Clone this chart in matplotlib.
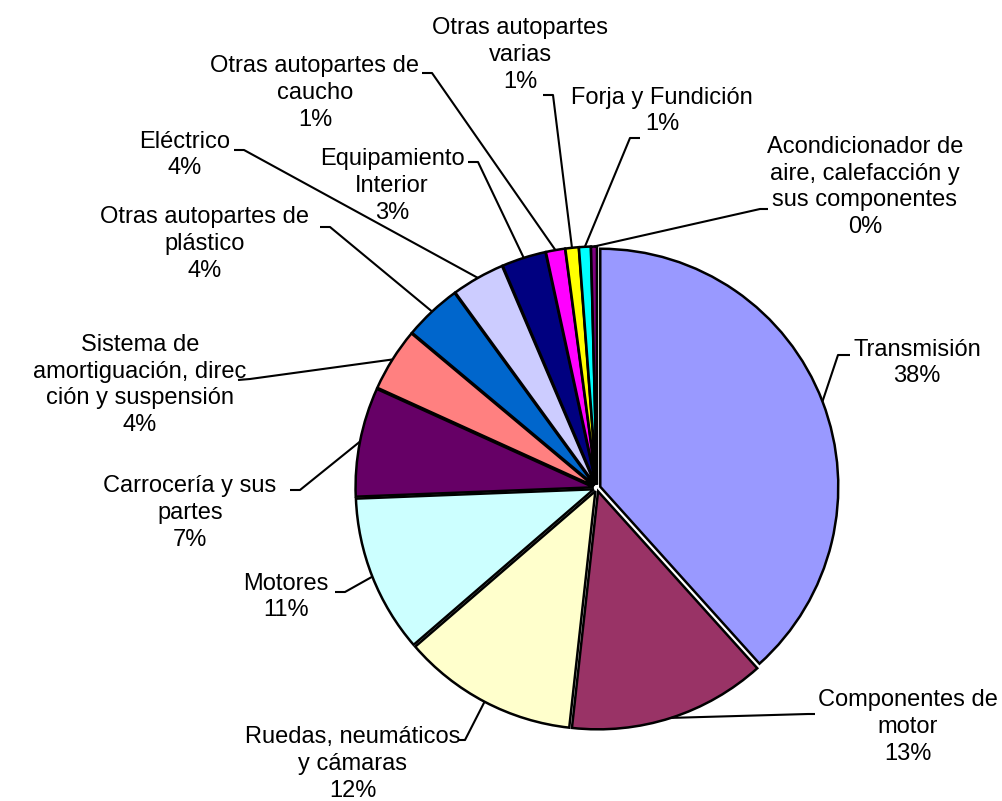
import matplotlib.pyplot as plt
import numpy as np

# share of each autoparts category (clockwise from 12 o'clock)
categories = [
    "Transmisión",
    "Componentes de\nmotor",
    "Ruedas, neumáticos\ny cámaras",
    "Motores",
    "Carrocería y sus\npartes",
    "Sistema de\namortiguación, direc\nción y suspensión",
    "Otras autopartes de\nplástico",
    "Eléctrico",
    "Equipamiento\nInterior",
    "Otras autopartes de\ncaucho",
    "Otras autopartes\nvarias",
    "Forja y Fundición",
    "Acondicionador de\naire, calefacción y\nsus componentes",
]
shares = [38.3, 13.4, 11.9, 10.7, 7.4, 4.3, 3.9, 3.6, 3.0, 1.3, 0.9, 0.8, 0.4]
pct_labels = ["38%", "13%", "12%", "11%", "7%", "4%", "4%", "4%", "3%", "1%", "1%", "1%", "0%"]
colors = ["#9999FF", "#993366", "#FFFFCC", "#CCFFFF", "#660066", "#FF8080",
          "#0066CC", "#CCCCFF", "#000080", "#FF00FF", "#FFFF00", "#00FFFF", "#800080"]

W, H = 1002, 801


def px(x, y):
    # image pixel coords -> axes data coords
    return x, H - y


# label layout in pixels: text centre, elbow of leader, end of leader
layout = [
    ((917, 363), (838, 355), (850, 355)),
    ((908, 727), (808, 714), (815, 714)),
    ((353, 764), (465, 740), (458, 740)),
    ((286, 597), (345, 592), (335, 592)),
    ((190, 513), (300, 490), (290, 490)),
    ((140, 385), (250, 379), (238, 380)),
    ((205, 244), (330, 227), (320, 227)),
    ((185, 155), (244, 150), (234, 150)),
    ((392, 186), (478, 162), (468, 162)),
    ((315, 93), (432, 73), (422, 73)),
    ((520, 55), (553, 95), (543, 95)),
    ((662, 111), (630, 138), (640, 138)),
    ((865, 187), (760, 209), (768, 209)),
]

plt.rcParams['font.family'] = ['Liberation Sans', 'DejaVu Sans']

fig = plt.figure(figsize=(W / 100, H / 100), dpi=100)
ax = fig.add_axes([0, 0, 1, 1])

radius = 238
center = px(597, 488)
wedges, _ = ax.pie(shares, colors=colors, startangle=90, counterclock=False,
                   radius=radius, center=center, explode=[3.5] * len(shares),
                   wedgeprops=dict(edgecolor="black", linewidth=1.8))

for i, w in enumerate(wedges):
    ang = np.deg2rad((w.theta1 + w.theta2) / 2)
    cx, cy = w.center
    rim = (cx + radius * np.cos(ang), cy + radius * np.sin(ang))
    (tx, ty), elbow, end = layout[i]
    ex, ey = px(*elbow)
    nx, ny = px(*end)
    ax.plot([rim[0], ex, nx], [rim[1], ey, ny], color="black", lw=1.5,
            solid_capstyle="butt", zorder=5)
    ax.text(*px(tx, ty), categories[i] + "\n" + pct_labels[i], ha="center", va="center",
            multialignment="center", fontsize=17, linespacing=1.28)

ax.set_xlim(0, W)
ax.set_ylim(0, H)
ax.set_aspect("equal")
ax.axis("off")

fig.savefig("out.png", dpi=100, facecolor="white")
